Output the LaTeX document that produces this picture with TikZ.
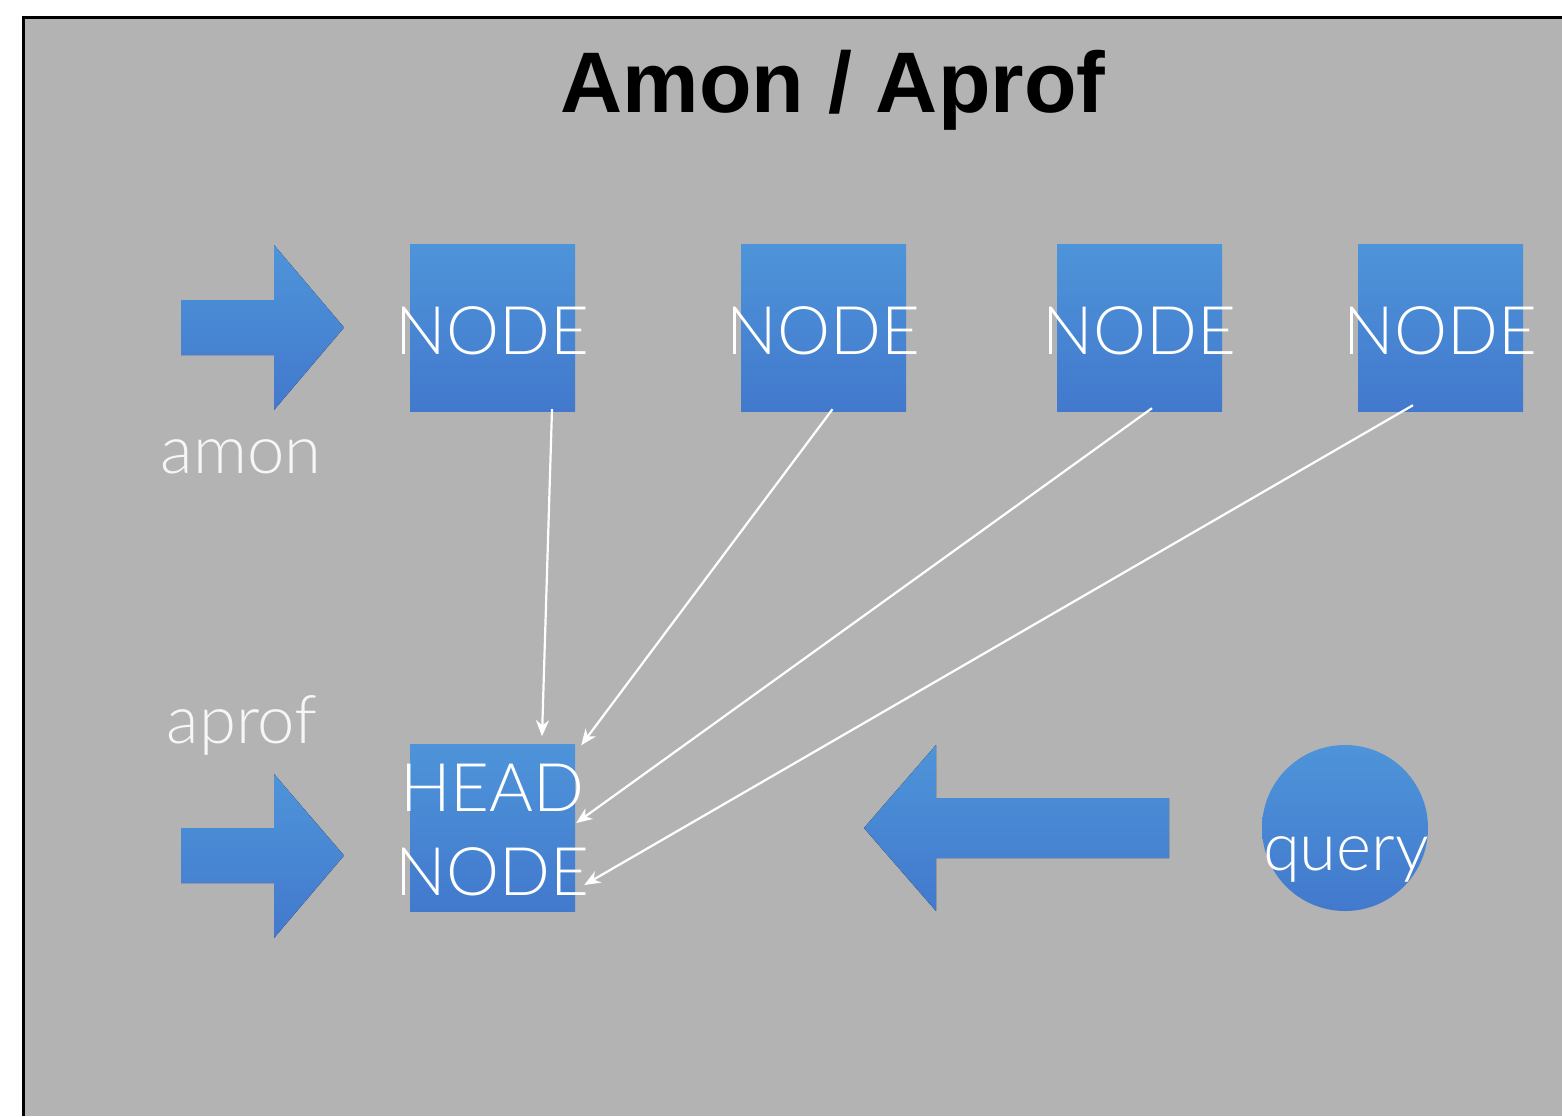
\documentclass[tikz,border=0pt]{standalone}
\usepackage{fontspec}
\setmainfont{Liberation Sans}
\newfontfamily\lightfont{Lato Light}
\usetikzlibrary{arrows.meta,calc}
\definecolor{bg}{RGB}{179,179,179}
\definecolor{bluetop}{RGB}{78,148,217}
\definecolor{bluebot}{RGB}{66,121,205}
\definecolor{labelgray}{RGB}{246,246,246}
\tikzset{
  box/.style={rectangle, minimum width=165pt, minimum height=167pt, inner sep=0pt,
    top color=bluetop, bottom color=bluebot, draw=none},
  boxtext/.style={text=white, font=\lightfont\fontsize{67}{84}\selectfont, inner sep=0pt},
  blockarrow/.style={top color=bluetop, bottom color=bluebot, draw=none},
  conn/.style={draw=white, line width=2.2pt, -{Stealth[length=16pt,width=13pt,inset=5pt]}},
  lbl/.style={text=labelgray, font=\lightfont\fontsize{67}{80}\selectfont, inner sep=0pt, anchor=base},
}
\begin{document}
\begin{tikzpicture}[x=1pt,y=-1pt]
\useasboundingbox (0,0) rectangle (1562,1116);
\fill[white] (0,0) rectangle (1562,1116);
\fill[bg] (25,19) rectangle (1562,1116);
\draw[black, line width=3pt] (23.5,1116) -- (23.5,17.5) -- (1562,17.5);

% title
\node[font=\bfseries\fontsize{86}{90}\selectfont, anchor=base, inner sep=0pt] (title) at (833,112) {Amon / Aprof};

% block arrows
\fill[blockarrow] (181,300) -- (274,300) -- (274,245) -- (344,327.5) -- (274,410) -- (274,355) -- (181,355) -- cycle;
\fill[blockarrow] (181,828) -- (274,828) -- (274,774) -- (344,855.5) -- (274,938) -- (274,883) -- (181,883) -- cycle;
\fill[blockarrow] (1169,798) -- (936,798) -- (936,745) -- (864,828) -- (936,911) -- (936,858) -- (1169,858) -- cycle;

% nodes
\node[box] (n1) at (492.5,327.5) {};
\node[box] (n2) at (823.5,327.5) {};
\node[box] (n3) at (1139.5,327.5) {};
\node[box] (n4) at (1440.5,327.5) {};
\node[box] (h) at (492.5,828) {};
\node[circle, minimum size=166pt, inner sep=0pt, top color=bluetop, bottom color=bluebot] (q) at (1345,828) {};

\node[boxtext, anchor=base] (t1) at (492.5,354) {NODE};
\node[boxtext, anchor=base] (t2) at (823.5,354) {NODE};
\node[boxtext, anchor=base] (t3) at (1139.5,354) {NODE};
\node[boxtext, anchor=base] (t4) at (1440.5,354) {NODE};
\node[boxtext, anchor=base, align=center] (th) at (492.5,895) {HEAD\\NODE};
\node[boxtext, anchor=base] (tq) at (1346,870) {query};

% labels
\node[lbl] (amon) at (241,473) {amon};
\node[lbl] (aprof) at (242,743) {aprof};

% connectors
\coordinate (s1) at ($(n1.south)+(59.5,-2)$);
\coordinate (s2) at ($(n2.south)+(9,-2)$);
\coordinate (s3) at ($(n3.south)+(12.5,-3)$);
\coordinate (s4) at ($(n4.south)+(-27.5,-6)$);
\coordinate (e1) at ($(h.north)+(49.5,-8)$);
\coordinate (e2) at ($(h.north east)+(6,1)$);
\coordinate (e3) at ($(h.east)+(1,-5)$);
\coordinate (e4) at ($(h.east)+(9,57)$);
\draw[conn] (s1) -- (e1);
\draw[conn] (s2) -- (e2);
\draw[conn] (s3) -- (e3);
\draw[conn] (s4) -- (e4);
\end{tikzpicture}
\end{document}
